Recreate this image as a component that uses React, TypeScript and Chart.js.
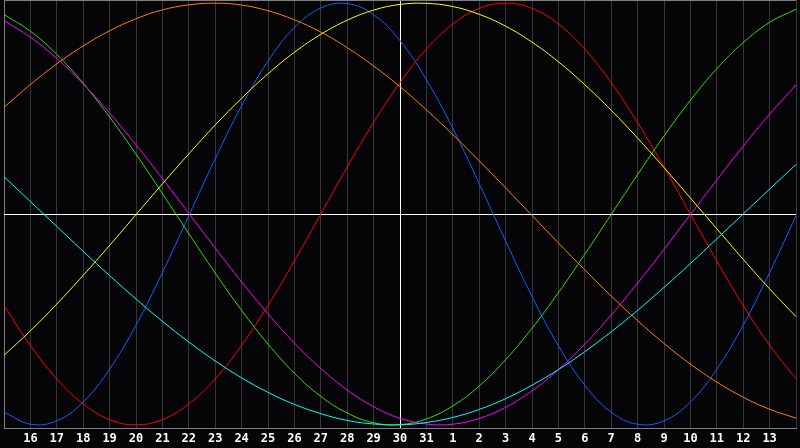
import React, { useEffect, useRef } from "react";
import { Chart, registerables } from "chart.js";

Chart.register(...registerables);

const days: string[] = [
  "15", "16", "17", "18", "19", "20", "21", "22", "23", "24", "25", "26", "27", "28", "29", "30", "31",
  "1", "2", "3", "4", "5", "6", "7", "8", "9", "10", "11", "12", "13", "14",
];

const physical: number[] = [
  -0.94, -0.997, -0.981, -0.892, -0.736, -0.527, -0.278, -0.008, 0.262, 0.513, 0.725, 0.884, 0.977, 0.998,
  0.945, 0.822, 0.637, 0.406, 0.144, -0.128, -0.391, -0.625, -0.812, -0.94, -0.997, -0.981, -0.892, -0.736,
  -0.527, -0.278, -0.008,
];

const emotional: number[] = [
  -0.434, -0.623, -0.782, -0.901, -0.975, -1, -0.975, -0.901, -0.782, -0.623, -0.434, -0.223, 0, 0.223, 0.434,
  0.623, 0.782, 0.901, 0.975, 1, 0.975, 0.901, 0.782, 0.623, 0.434, 0.223, 0, -0.223, -0.434, -0.623, -0.782,
];

const intellectual: number[] = [
  0.946, 0.867, 0.757, 0.62, 0.46, 0.284, 0.097, -0.093, -0.28, -0.457, -0.617, -0.755, -0.865, -0.944, -0.99,
  -0.999, -0.972, -0.91, -0.816, -0.691, -0.542, -0.373, -0.191, -0.002, 0.187, 0.37, 0.539, 0.689, 0.813,
  0.909, 0.971,
];

const intuitive: number[] = [
  0.917, 0.839, 0.738, 0.617, 0.479, 0.328, 0.168, 0.003, -0.161, -0.322, -0.473, -0.612, -0.733, -0.835,
  -0.914, -0.969, -0.996, -0.997, -0.97, -0.917, -0.839, -0.738, -0.617, -0.479, -0.328, -0.168, -0.003, 0.161,
  0.322, 0.473, 0.612,
];

const aesthetic: number[] = [
  -0.67, -0.554, -0.427, -0.291, -0.149, -0.003, 0.143, 0.285, 0.422, 0.549, 0.665, 0.767, 0.852, 0.919, 0.967,
  0.994, 0.999, 0.984, 0.947, 0.891, 0.815, 0.722, 0.613, 0.492, 0.36, 0.22, 0.076, -0.07, -0.215, -0.355,
  -0.487,
];

const awareness: number[] = [
  0.506, 0.614, 0.712, 0.797, 0.869, 0.926, 0.968, 0.992, 1.0, 0.991, 0.964, 0.921, 0.863, 0.789, 0.702, 0.604,
  0.494, 0.377, 0.252, 0.124, -0.007, -0.137, -0.265, -0.389, -0.506, -0.614, -0.712, -0.797, -0.869, -0.926,
  -0.968,
];

const spiritual: number[] = [
  0.177, 0.059, -0.059, -0.177, -0.292, -0.403, -0.509, -0.607, -0.697, -0.777, -0.846, -0.903, -0.947, -0.979,
  -0.996, -1.0, -0.989, -0.965, -0.927, -0.876, -0.812, -0.738, -0.653, -0.559, -0.457, -0.348, -0.235, -0.118,
  0.0, 0.118, 0.235,
];

const seriesList: { name: string; data: number[]; color: string }[] = [
  { name: "spiritual", data: spiritual, color: "#00ffff" },
  { name: "awareness", data: awareness, color: "#ff8000" },
  { name: "aesthetic", data: aesthetic, color: "#ffff00" },
  { name: "intuitive", data: intuitive, color: "#ff00ff" },
  { name: "intellectual", data: intellectual, color: "#30e000" },
  { name: "emotional", data: emotional, color: "#ff0000" },
  { name: "physical", data: physical, color: "#1060ff" },
];

const Y_LIMIT = 1.015;
const TODAY_INDEX = 15;

export default function App() {
  const canvasRef = useRef<HTMLCanvasElement | null>(null);

  useEffect(() => {
    document.body.style.margin = "0";
    document.body.style.background = "#050508";
    const canvas = canvasRef.current;
    if (!canvas) return;
    const chart = new Chart(canvas, {
      type: "line",
      data: {
        labels: days,
        datasets: seriesList.map((s) => ({
          label: s.name,
          data: s.data,
          borderColor: s.color,
          backgroundColor: s.color,
          borderWidth: 1,
          pointRadius: 0,
          tension: 0.4,
          fill: false,
        })),
      },
      options: {
        responsive: false,
        animation: false,
        layout: { padding: 0 },
        plugins: {
          legend: { display: false },
          tooltip: { enabled: false },
        },
        scales: {
          x: {
            type: "category",
            offset: false,
            afterFit: (scale: any) => {
              scale.height = 20;
            },
            grid: {
              drawTicks: false,
              lineWidth: 1,
              color: (ctx: any) =>
                ctx.index === TODAY_INDEX ? "#ffffff" : ctx.index === 0 ? "#808080" : "#363636",
            },
            border: { display: true, color: "#808080", width: 1 },
            ticks: {
              autoSkip: false,
              maxRotation: 0,
              minRotation: 0,
              padding: 4,
              color: "#ffffff",
              font: { family: "'DejaVu Sans Mono', monospace", size: 12, weight: "bold" },
              callback: (_v: any, idx: number) => (idx === 0 || idx === days.length - 1 ? "" : days[idx]),
            },
          },
          y: {
            min: -Y_LIMIT,
            max: Y_LIMIT,
            afterFit: (scale: any) => {
              scale.width = 0;
            },
            afterBuildTicks: (scale: any) => {
              scale.ticks = [{ value: 0 }, { value: Y_LIMIT }];
            },
            grid: {
              drawTicks: false,
              lineWidth: 1,
              color: (ctx: any) => (ctx.tick && ctx.tick.value === 0 ? "#ffffff" : "#808080"),
            },
            border: { display: false },
            ticks: { display: false },
          },
        },
      },
    });
    return () => chart.destroy();
  }, []);

  return (
    <div style={{ position: "fixed", left: 0, top: 0, width: 800, height: 448, background: "#050508" }}>
      <canvas ref={canvasRef} width={800} height={448} style={{ display: "block" }} />
    </div>
  );
}
